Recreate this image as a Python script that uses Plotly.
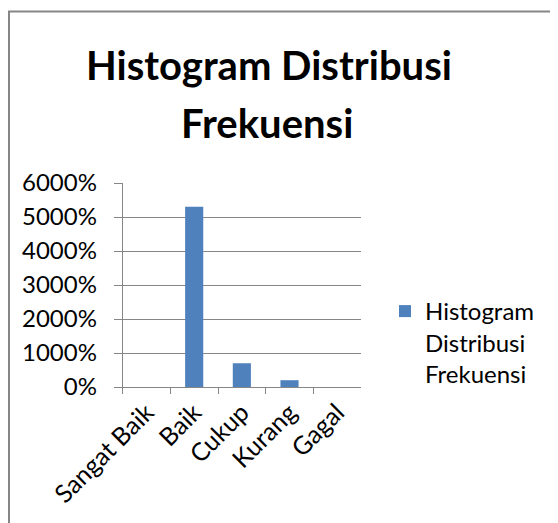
import plotly.graph_objects as go

categories = ["Sangat Baik", "Baik", "Cukup", "Kurang", "Gagal"]
values = [0, 53, 7, 2, 0]  # fractions -> shown as percent (53 = 5300%)
series_name = "Histogram<br>Distribusi<br>Frekuensi"
title_lines = ["Histogram Distribusi", "Frekuensi"]

OFF = 8  # page body margin
W, H = 558 - OFF, 523 - OFF
FONT = "Lato"
GRID = "#868686"
BAR = "#4F81BD"

fig = go.Figure()
fig.add_trace(go.Bar(
    x=categories, y=values, name=series_name,
    marker=dict(color=BAR, line=dict(width=0)),
))

def px(x):
    return (x - OFF) / W

def py(y):
    return 1 - (y - OFF) / H

title_font = dict(size=40, family=FONT, color="black", weight="bold")

fig.update_layout(
    width=W, height=H,
    margin=dict(l=0, r=0, t=0, b=0, autoexpand=False),
    paper_bgcolor="white", plot_bgcolor="white",
    font=dict(family=FONT, color="black", size=24),
    bargap=0.62,
    showlegend=True,
    legend=dict(x=px(385), y=py(289), xanchor="left", yanchor="top",
                valign="top", font=dict(size=24, family=FONT),
                bgcolor="rgba(0,0,0,0)", tracegroupgap=0),
    xaxis=dict(domain=[px(122.7), px(361)], type="category", automargin=False,
               showgrid=False, showline=True, linecolor=GRID, linewidth=1,
               ticks="outside", tickson="boundaries", ticklen=6, tickcolor=GRID,
               tickangle=-45, tickfont=dict(size=25, family=FONT),
               fixedrange=True),
    yaxis=dict(domain=[py(387), py(183)], range=[0, 60], dtick=10, automargin=False,
               tickformat=".0%", showgrid=True, gridcolor=GRID, gridwidth=1,
               showline=True, linecolor=GRID, linewidth=1,
               ticks="outside", ticklen=8, tickcolor=GRID,
               tickfont=dict(size=24, family=FONT), zeroline=False,
               ticklabelstandoff=12),
    annotations=[
        dict(text=title_lines[0], x=px(269), y=py(39), xref="paper", yref="paper",
             xanchor="center", yanchor="top", showarrow=False, font=title_font),
        dict(text=title_lines[1], x=px(267), y=py(97), xref="paper", yref="paper",
             xanchor="center", yanchor="top", showarrow=False, font=title_font),
    ],
    shapes=[dict(type="rect", xref="paper", yref="paper",
                 x0=px(9), x1=px(600), y0=py(600), y1=py(11.5),
                 line=dict(color=GRID, width=2), fillcolor="rgba(0,0,0,0)")],
)

fig.write_html("out.html")
